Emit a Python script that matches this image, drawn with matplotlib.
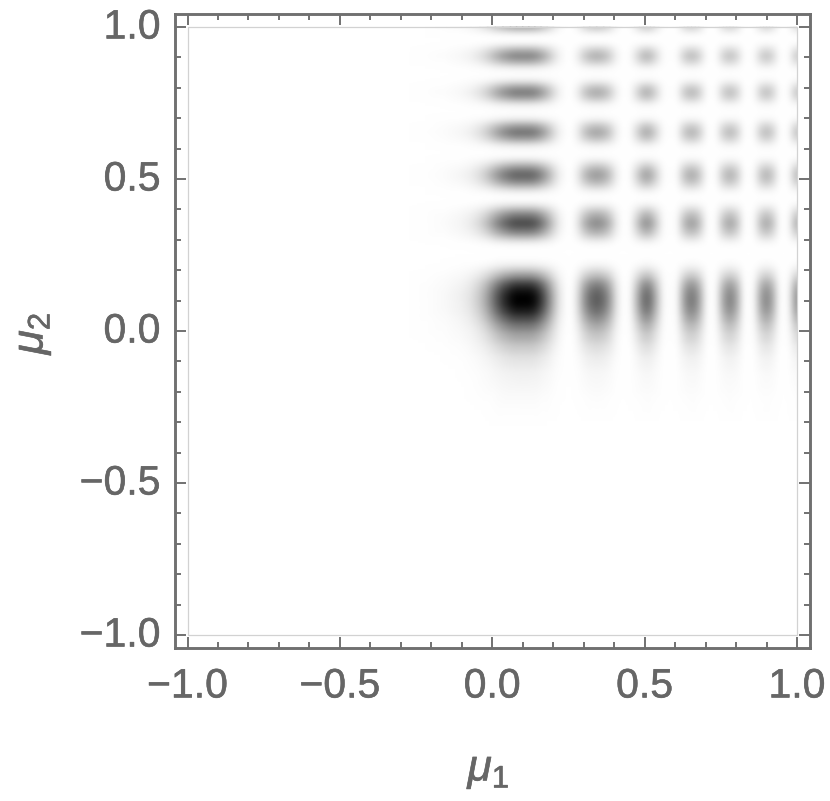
import numpy as np
import matplotlib
matplotlib.use("Agg")
import matplotlib.pyplot as plt
import matplotlib.patheffects as pe
from matplotlib.patches import Rectangle
from matplotlib.ticker import MultipleLocator
from matplotlib.transforms import ScaledTranslation

# Darkness profiles (0 = white, 1 = black)
mu1_nodes = [-1.0, -0.40, -0.30, -0.25, -0.20, -0.15, -0.10, -0.07, -0.04, -0.015, 0.01, 0.035, 0.06, 0.08,
             0.10, 0.12, 0.14, 0.16, 0.18, 0.20, 0.22, 0.24, 0.252,
             0.262, 0.28, 0.30, 0.32, 0.343, 0.366, 0.386, 0.406, 0.425, 0.44,
             0.452, 0.467, 0.483, 0.495, 0.507, 0.519, 0.531, 0.547, 0.562, 0.578,
             0.603, 0.615, 0.63, 0.642, 0.654, 0.666, 0.678, 0.693, 0.706, 0.718,
             0.732, 0.745, 0.758, 0.769, 0.78, 0.791, 0.802, 0.815, 0.827, 0.838,
             0.855, 0.867, 0.88, 0.89, 0.90, 0.91, 0.92, 0.933, 0.945, 0.955,
             0.968, 0.98, 0.99, 1.0]
mu1_darkness = [0, 0, .001, .003, .01, .025, .06, .11, .22, .38, .6, .8, .94, 1,
                1, 1, .94, .78, .55, .3, .1, .015, 0,
                .01, .13, .38, .56, .64, .56, .38, .13, .01, 0,
                .03, .18, .38, .52, .57, .52, .38, .18, .03, 0,
                .02, .16, .36, .47, .51, .47, .36, .16, .02, 0,
                .02, .16, .33, .42, .47, .42, .33, .16, .02, 0,
                .02, .14, .32, .40, .45, .40, .32, .14, .02, 0,
                .02, .14, .30, .40]
mu2_nodes = [-1.0, -0.45, -0.35, -0.30, -0.25, -0.20, -0.13, -0.08, -0.04, 0.0, 0.03, 0.06, 0.085,
             0.103, 0.12, 0.14, 0.16, 0.175, 0.195, 0.215, 0.235, 0.25,
             0.27, 0.285, 0.30, 0.32, 0.34, 0.355, 0.37, 0.39, 0.41, 0.425, 0.44,
             0.455, 0.47, 0.485, 0.50, 0.513, 0.526, 0.54, 0.555, 0.57, 0.585,
             0.605, 0.618, 0.63, 0.644, 0.654, 0.664, 0.678, 0.69, 0.703, 0.72,
             0.74, 0.752, 0.763, 0.775, 0.785, 0.795, 0.807, 0.818, 0.83, 0.845,
             0.862, 0.873, 0.884, 0.896, 0.905, 0.914, 0.926, 0.937, 0.948, 0.96,
             0.968, 0.978, 0.988, 1.0]
mu2_darkness = [0, 0, 0, .003, .01, .025, .06, .13, .25, .42, .62, .85, .97,
                1, .98, .88, .7, .5, .27, .08, .01, 0,
                0, .03, .15, .42, .62, .70, .62, .42, .15, .03, 0,
                .04, .18, .38, .54, .60, .54, .38, .18, .04, 0,
                .04, .16, .34, .48, .54, .48, .34, .16, .04, 0,
                .04, .15, .31, .45, .50, .45, .31, .15, .04, 0,
                .04, .14, .29, .41, .47, .41, .29, .14, .03, 0,
                0, .06, .18, .34]
tick_values = [-1.0, -0.5, 0.0, 0.5, 1.0]
tick_labels = ["\u22121.0", "\u22120.5", "0.0", "0.5", "1.0"]
x_label = r"$\mu_1$"
y_label = r"$\mu_2$"

plt.rcParams["font.family"] = ["Liberation Sans", "DejaVu Sans"]
plt.rcParams["mathtext.fontset"] = "custom"
plt.rcParams["mathtext.rm"] = "Liberation Sans"
plt.rcParams["mathtext.it"] = "Liberation Sans:italic"

W, H = 830, 801
GREY = "#666666"
SOFT = 2.0  # px, softness of the raster shading


def soften(arr, dpi):
    """Slight blur of the shading's colour, as in the resampled reference."""
    out = arr.copy()
    rgb = out[..., :3].copy()
    rgb[out[..., 3] == 0] = 1.0
    r = int(3 * SOFT)
    k = np.exp(-0.5 * (np.arange(-r, r + 1) / SOFT) ** 2)
    k /= k.sum()
    for axis in (0, 1):
        pad = [(0, 0)] * 3
        pad[axis] = (r, r)
        rgb = np.apply_along_axis(lambda m: np.convolve(m, k, mode="valid"), axis,
                                  np.pad(rgb, pad, mode="edge"))
    out[..., :3] = rgb
    return out, 0, 0


fig = plt.figure(figsize=(W / 100, H / 100), dpi=100)
ax = fig.add_axes([174.5 / W, 1 - 648 / H, (810 - 174.5) / W, (648 - 14) / H])

field = np.outer(mu2_darkness, mu1_darkness)
mesh = ax.pcolormesh(mu1_nodes, mu2_nodes, field, shading="gouraud", cmap="gray_r", vmin=0, vmax=1)
mesh.set_agg_filter(soften)
ax.add_patch(Rectangle((-1, -1), 2, 2, fill=False, ec="#d2d2d2", lw=0.9, zorder=3))

ax.set_xlim(-1.0427, 1.0427)
ax.set_ylim(-1.0427, 1.0427)
for s in ax.spines.values():
    s.set_color("#707070")
    s.set_linewidth(2.1)
ax.set_xticks(tick_values, tick_labels)
ax.set_yticks(tick_values, tick_labels)
ax.xaxis.set_minor_locator(MultipleLocator(0.1))
ax.yaxis.set_minor_locator(MultipleLocator(0.1))
ax.tick_params(which="major", direction="in", length=7.6, width=1.3, color=GREY,
               top=True, right=True, labelcolor=GREY, labelsize=29.5)
ax.tick_params(which="minor", direction="in", length=4, width=1.3, color=GREY, top=True, right=True)
ax.tick_params(axis="x", which="major", pad=14)
ax.tick_params(axis="y", which="major", pad=10)

stroke = [pe.withStroke(linewidth=0.4, foreground=GREY)]
shift_up = ScaledTranslation(0, 3.5 / 100, fig.dpi_scale_trans)
for t in ax.get_yticklabels():
    t.set_transform(t.get_transform() + shift_up)
    t.set_path_effects(stroke)
for t in ax.get_xticklabels():
    t.set_path_effects(stroke)

fig.text(489 / W, 1 - 770 / H, x_label, ha="center", va="center", color=GREY, fontsize=32, path_effects=stroke)
fig.text(32 / W, 1 - 333 / H, y_label, ha="center", va="center", color=GREY, fontsize=32, rotation=90,
         path_effects=stroke)

fig.savefig("out.png", dpi=100)
